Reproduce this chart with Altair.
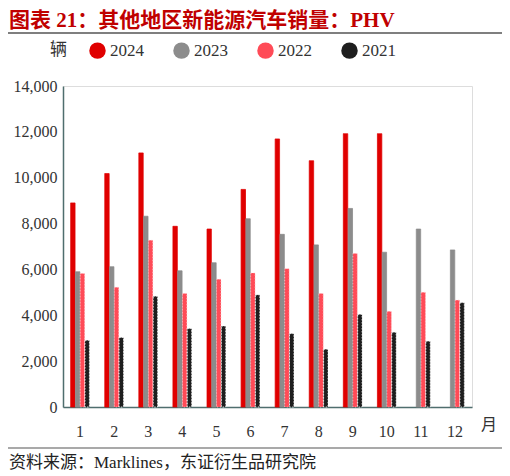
import altair as alt
import pandas as pd

months = [str(m) for m in range(1, 13)]
years = ["2024", "2023", "2022", "2021"]
colors = ["#E00000", "#8C8C8C", "#FF4B57", "#1E1E1E"]
edge_colors = ["#E00000", "#8C8C8C", "#FFC4C9", "#FFFFFF"]

v2024 = [8900, 10180, 11080, 7880, 7760, 9490, 11690, 10740, 11920, 11920, None, None]
v2023 = [5900, 6120, 8320, 5940, 6290, 8210, 7530, 7070, 8660, 6750, 7760, 6850]
v2022 = [5820, 5220, 7270, 4950, 5570, 5840, 6030, 4950, 6690, 4170, 5000, 4660]
v2021 = [2910, 3030, 4830, 3420, 3530, 4890, 3200, 2520, 4040, 3260, 2870, 4550]

y_ticks = [0, 2000, 4000, 6000, 8000, 10000, 12000, 14000]

title_text = "图表 21：其他地区新能源汽车销量：PHV"
source_text = "资料来源：Marklines，东证衍生品研究院"
unit_text = "辆"
x_unit = "月"

rows = []
for yr, vals in zip(years, [v2024, v2023, v2022, v2021]):
    for m, v in zip(months, vals):
        if v is not None:
            rows.append({"month": m, "year": yr, "value": v})
df = pd.DataFrame(rows)

SERIF = "Liberation Serif, Noto Sans CJK SC"
W, H = 409, 321
AXC = "#4F6E6E"

bars = alt.Chart(df).mark_bar(strokeWidth=0.8).encode(
    x=alt.X("month:N", sort=months, title=None,
            scale=alt.Scale(paddingInner=0.45, paddingOuter=0.225),
            axis=alt.Axis(labelAngle=0, labelFont=SERIF, labelFontSize=16,
                          labelColor="#333333", ticks=False, labelPadding=16,
                          domainColor=AXC, domainWidth=1.5, grid=False)),
    xOffset=alt.XOffset("year:N", sort=years, scale=alt.Scale(paddingInner=0.08)),
    y=alt.Y("value:Q", title=None,
            scale=alt.Scale(domain=[0, 14000], nice=False),
            axis=alt.Axis(values=y_ticks, format=",d", labelFont=SERIF, labelFontSize=16,
                          labelColor="#333333", ticks=False, labelPadding=6,
                          domainColor=AXC, domainWidth=1.5, grid=False)),
    color=alt.Color("year:N", sort=years,
                    scale=alt.Scale(domain=years, range=colors),
                    legend=alt.Legend(title=unit_text, titleOrient="left", orient="none",
                                      direction="horizontal", legendX=-13, legendY=-44,
                                      symbolType="circle", symbolSize=270,
                                      symbolStrokeWidth=0,
                                      labelFont=SERIF, labelFontSize=17, labelColor="#333333",
                                      titleFont=SERIF, titleFontSize=17, titleColor="#333333",
                                      titleFontWeight="normal", titlePadding=22,
                                      columnPadding=29, labelOffset=4)),
    stroke=alt.Stroke("year:N", sort=years,
                      scale=alt.Scale(domain=years, range=edge_colors), legend=None),
    strokeDash=alt.StrokeDash("year:N", sort=years,
                              scale=alt.Scale(domain=years,
                                              range=[[1, 0], [1, 0], [1, 2], [1.5, 1.5]]),
                              legend=None),
)

title = alt.Chart(pd.DataFrame({"t": [title_text]})).mark_text(
    align="left", baseline="alphabetic", font=SERIF, fontSize=21, fontWeight="bold",
    color="#C00000"
).encode(text="t:N", x=alt.value(-54), y=alt.value(-59))

top_line = alt.Chart(pd.DataFrame({"a": [0]})).mark_rule(color="#000000", strokeWidth=1.2).encode(
    x=alt.value(-55), x2=alt.value(442), y=alt.value(-53))

bottom_line = alt.Chart(pd.DataFrame({"a": [0]})).mark_rule(color="#8C8C8C", strokeWidth=1.5).encode(
    x=alt.value(-55), x2=alt.value(442), y=alt.value(H + 41))

source = alt.Chart(pd.DataFrame({"t": [source_text]})).mark_text(
    align="left", baseline="middle", font=SERIF, fontSize=17, color="#222222"
).encode(text="t:N", x=alt.value(-54), y=alt.value(H + 56))

xunit = alt.Chart(pd.DataFrame({"t": [x_unit]})).mark_text(
    align="center", baseline="middle", font=SERIF, fontSize=16, color="#333333"
).encode(text="t:N", x=alt.value(W + 17), y=alt.value(H + 18))

chart = alt.layer(bars, title, top_line, bottom_line, source, xunit).properties(
    width=W, height=H,
    autosize=alt.AutoSizeParams(type="none"),
    padding={"left": 55, "top": 78, "right": 30, "bottom": 68},
).configure_view(stroke=None).configure(background="white")

chart.save("out.html", embed_options={"renderer": "svg", "actions": False})
